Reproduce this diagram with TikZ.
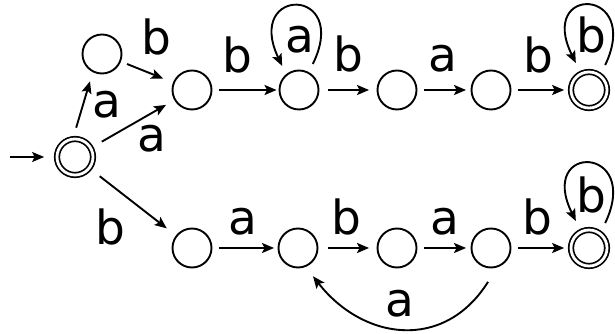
\documentclass[tikz,border=0pt]{standalone}
\usepackage{fontspec}
\setmainfont{DejaVu Sans}
\usetikzlibrary{arrows.meta}
\begin{document}
\begin{tikzpicture}[x=1pt,y=1pt,
  state/.style={circle,draw,line width=1.9pt,minimum size=39pt,inner sep=0pt},
  accept/.style={circle,draw,line width=1.7pt,double,double distance=2.8pt,minimum size=36pt,inner sep=0pt},
  tr/.style={line width=1.9pt,-{Stealth[length=12pt,width=10pt,inset=2.5pt]}},
  lbl/.style={anchor=base,inner sep=0pt,font=\fontsize{47}{50}\selectfont}]
\useasboundingbox (0,0) rectangle (615,334);
% states
\node[accept] (s0) at (75,177) {};
\node[state] (n1) at (102,280) {};
\node[state] (n2) at (192,244) {};
\node[state] (n3) at (299,244) {};
\node[state] (n4) at (397,244) {};
\node[state] (n5) at (491,244) {};
\node[accept] (n6) at (589,244) {};
\node[state] (m1) at (192,86) {};
\node[state] (m2) at (298,86) {};
\node[state] (m3) at (397,86) {};
\node[state] (m4) at (491,86) {};
\node[accept] (m5) at (589,86) {};
\coordinate (init) at (10,177);
% transitions
\draw[tr,shorten >=12pt] (init) -- (s0.west);
\draw[tr,shorten <=11pt,shorten >=9.5pt] (s0.96) -- (n1.243);
\draw[tr,shorten <=12pt,shorten >=9.5pt] (s0) -- (n2);
\draw[tr,shorten <=6.5pt,shorten >=10.5pt] (n1) -- (n2);
\draw[tr,shorten <=12.5pt,shorten >=11.5pt] (s0) -- (m1);
\draw[tr,shorten <=6.5pt,shorten >=2pt] (n2) -- (n3);
\draw[tr,shorten <=8.5pt,shorten >=7.5pt] (n3) -- (n4);
\draw[tr,shorten <=6.5pt,shorten >=4.5pt] (n4) -- (n5);
\draw[tr,shorten <=6.5pt,shorten >=6pt] (n5) -- (n6);
\draw[tr,shorten <=6.5pt,shorten >=3.5pt] (m1) -- (m2);
\draw[tr,shorten <=9.5pt,shorten >=7.5pt] (m2) -- (m3);
\draw[tr,shorten <=6.5pt,shorten >=4.5pt] (m3) -- (m4);
\draw[tr,shorten <=6.5pt,shorten >=6pt] (m4) -- (m5);
% loops
\draw[tr] ([shift={(62:29.5pt)}]n3.center) .. controls +(38,78) and +(-38,80) .. ([shift={(125:29.4pt)}]n3.center);
\draw[tr] ([shift={(57:29.7pt)}]n6.center) .. controls +(37,78) and +(-39,79) .. ([shift={(116:30pt)}]n6.center);
\draw[tr] ([shift={(57:29.7pt)}]m5.center) .. controls +(37,78) and +(-39,79) .. ([shift={(116:30pt)}]m5.center);
% back edge
\draw[tr] ([shift={(265:34pt)}]m4.center) .. controls +(-44,-70) and +(50,-64) .. ([shift={(298:32pt)}]m2.center);
% labels
\node[lbl] (l1) at (107,216) {a};
\node[lbl] (l2) at (156,279) {b};
\node[lbl] (l3) at (152,182) {a};
\node[lbl] (l4) at (237,261) {b};
\node[lbl] (l5) at (300,281) {a};
\node[lbl] (l6) at (348,262) {b};
\node[lbl] (l7) at (443,262) {a};
\node[lbl] (l8) at (538,261) {b};
\node[lbl] (l9) at (591,281) {b};
\node[lbl] (l10) at (110,89) {b};
\node[lbl] (l11) at (243,99) {a};
\node[lbl] (l12) at (346,99) {b};
\node[lbl] (l13) at (445,99) {a};
\node[lbl] (l14) at (537,99) {b};
\node[lbl] (l15) at (591,121) {b};
\node[lbl] (l16) at (400,17) {a};
\end{tikzpicture}
\end{document}
